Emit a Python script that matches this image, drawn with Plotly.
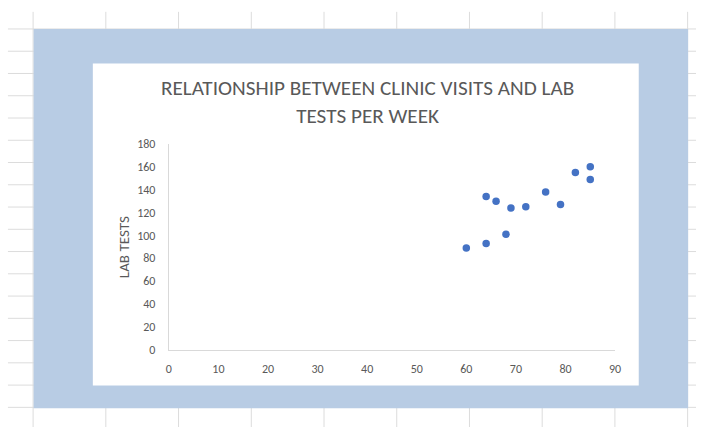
import plotly.graph_objects as go

# Data
clinic_visits = [60, 64, 64, 66, 68, 69, 72, 76, 79, 82, 85, 85]
lab_tests = [89, 93, 134, 130, 101, 124, 125, 138, 127, 155, 160, 149]
x_ticks = [0, 10, 20, 30, 40, 50, 60, 70, 80, 90]
y_ticks = [0, 20, 40, 60, 80, 100, 120, 140, 160, 180]

title_text = "RELATIONSHIP BETWEEN CLINIC VISITS AND LAB<br>TESTS PER WEEK"
y_title = "LAB TESTS"

W, H = 702, 434
FONT = "Calibri, Carlito, Lato, sans-serif"
GRAY = "#595959"


def px(x):
    return x / W


def py(y):
    return 1 - y / H


shapes = []
# spreadsheet grid
for k in range(18):
    yy = 22.7 + 23.0 * k
    shapes.append(dict(type="line", xref="paper", yref="paper", layer="below",
                       x0=px(5), x1=px(702), y0=py(yy), y1=py(yy),
                       line=dict(color="#dcdcdc", width=1)))
for k in range(10):
    xx = 30.5 + 73.67 * k
    shapes.append(dict(type="line", xref="paper", yref="paper", layer="below",
                       x0=px(xx), x1=px(xx), y0=py(5), y1=py(434),
                       line=dict(color="#dcdcdc", width=1)))
# blue frame
shapes.append(dict(type="rect", xref="paper", yref="paper", layer="below",
                   x0=px(31), x1=px(694), y0=py(414.5), y1=py(22.7),
                   fillcolor="#B8CCE4", line=dict(width=0)))
# white chart area
shapes.append(dict(type="rect", xref="paper", yref="paper", layer="below",
                   x0=px(91), x1=px(644), y0=py(391), y1=py(58.5),
                   fillcolor="#FFFFFF", line=dict(width=0)))

fig = go.Figure()
fig.add_trace(go.Scatter(
    x=clinic_visits, y=lab_tests, mode="markers",
    marker=dict(color="#4472C4", size=7.5, line=dict(width=0)),
    showlegend=False, hoverinfo="x+y"))

annotations = [
    dict(text=title_text, xref="paper", yref="paper",
         x=px(369), y=py(98.5), xanchor="center", yanchor="middle",
         showarrow=False, align="center",
         font=dict(family=FONT, size=21.2, color=GRAY)),
    dict(text=y_title, xref="paper", yref="paper",
         x=px(122.7), y=py(248), xanchor="center", yanchor="middle",
         textangle=-90, showarrow=False,
         font=dict(family=FONT, size=15, color=GRAY)),
]

fig.update_layout(
    width=W, height=H, autosize=False,
    margin=dict(l=0, r=0, t=0, b=0),
    paper_bgcolor="white", plot_bgcolor="rgba(0,0,0,0)",
    shapes=shapes,
    font=dict(family=FONT, color=GRAY, size=12),
    xaxis=dict(domain=[px(168), px(620)], range=[0, 90], tickmode="array",
               tickvals=x_ticks, ticktext=[str(v) for v in x_ticks],
               showgrid=False, zeroline=False, showline=True,
               linecolor="#d9d9d9", linewidth=1, ticks="",
               ticklabelstandoff=8,
               tickfont=dict(family=FONT, color=GRAY, size=12)),
    yaxis=dict(domain=[py(354), py(141.6)], range=[0, 180], tickmode="array",
               tickvals=y_ticks, ticktext=[str(v) for v in y_ticks],
               showgrid=False, zeroline=False, showline=True,
               linecolor="#d9d9d9", linewidth=1, ticks="",
               ticklabelstandoff=10,
               tickfont=dict(family=FONT, color=GRAY, size=12)),
    annotations=annotations,
)

post = (
    "var gd=document.getElementById('{plot_id}');"
    "document.documentElement.style.overflow='hidden';"
    "document.body.style.margin='0';"
    "document.body.style.overflow='hidden';"
    "gd.style.position='fixed';gd.style.left='0px';gd.style.top='0px';"
)

fig.write_html("out.html", config={"displayModeBar": False}, post_script=post)
